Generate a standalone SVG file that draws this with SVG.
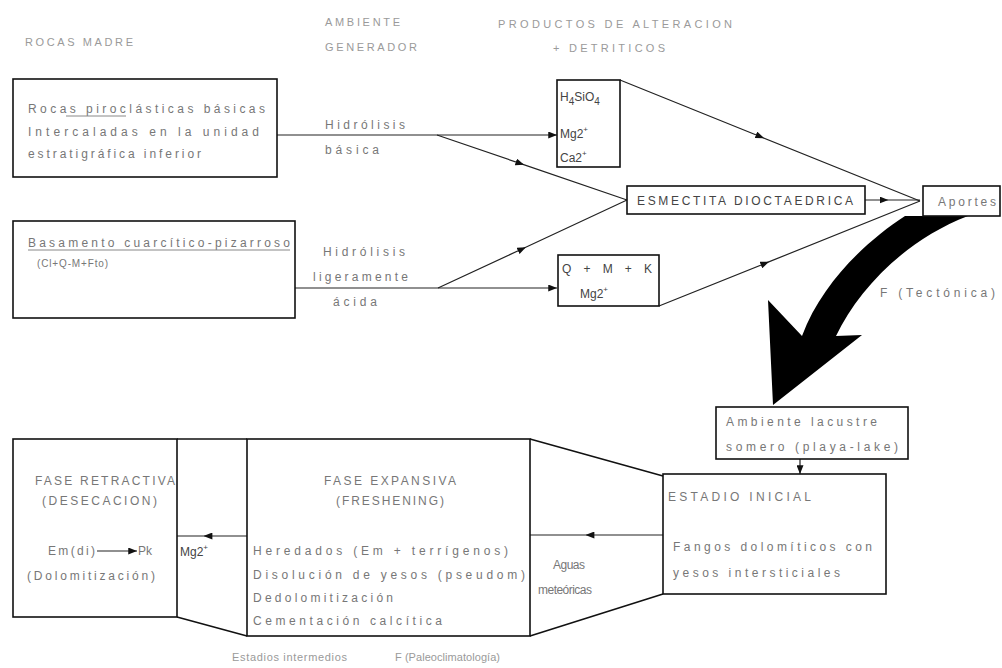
<svg xmlns="http://www.w3.org/2000/svg" width="1002" height="668" viewBox="0 0 1002 668">
<style>
.t{font-family:"Liberation Sans",Arial,sans-serif;font-size:12px;fill:#777}
.h{fill:#9a9a9a;font-size:11px}
.d{fill:#444}
.s{font-size:10px}
.box{fill:none;stroke:#111;stroke-width:1.6}
.ln{fill:none;stroke:#222;stroke-width:1.2}
</style>
<defs>
<marker id="ae" viewBox="0 0 10 8" refX="10" refY="4" markerWidth="9" markerHeight="7" orient="auto" markerUnits="userSpaceOnUse"><path d="M0,0 L10,4 L0,8 Z" fill="#111"/></marker>
<marker id="am" viewBox="0 0 10 8" refX="5" refY="4" markerWidth="9" markerHeight="7" orient="auto" markerUnits="userSpaceOnUse"><path d="M0,0 L10,4 L0,8 Z" fill="#111"/></marker>
</defs>
<rect width="1002" height="668" fill="#fff"/>

<g id="headers" class="t h">
<text x="25" y="46" textLength="108" lengthAdjust="spacing">ROCAS MADRE</text>
<text x="325" y="26" textLength="75" lengthAdjust="spacing">AMBIENTE</text>
<text x="325" y="51" textLength="92" lengthAdjust="spacing">GENERADOR</text>
<text x="498" y="28" textLength="234" lengthAdjust="spacing">PRODUCTOS DE ALTERACION</text>
<text x="553" y="52" textLength="112" lengthAdjust="spacing">+ DETRITICOS</text>
</g>

<g id="connectors">
<path class="ln" d="M277,135 H557" marker-end="url(#ae)"/>
<path class="ln" d="M295,288 H557" marker-end="url(#ae)"/>
<path class="ln" d="M437,135 L520,163.4 L627,200" marker-mid="url(#am)"/>
<path class="ln" d="M438,288 L522,249 L627,200" marker-mid="url(#am)"/>
<path class="ln" d="M620,80 L760,136.5 L920,201" marker-mid="url(#am)"/>
<path class="ln" d="M659,306 L765,263.4 L920,201" marker-mid="url(#am)"/>
<path class="ln" d="M865,200 L884,200 L920,200" marker-mid="url(#am)"/>
<path class="ln" d="M800,459 V474" marker-end="url(#ae)"/>
<path class="ln" d="M247,536 L208,536 L177,536" marker-mid="url(#am)"/>
<path class="ln" d="M663,535 L590,535 L530,535" marker-mid="url(#am)"/>
<path id="tectonic-arrow" d="M905,216 C868,240 822,282 802,336 L768,300 L773,405 L862,335 L836,336 C858,290 905,240 968,216 Z" fill="#000"/>
</g>

<g id="rocas-piroclasticas">
<rect class="box" x="13" y="79" width="264" height="98"/>
<text class="t" x="28" y="113" textLength="237" lengthAdjust="spacing">Rocas piroclásticas básicas</text>
<line x1="66" y1="116" x2="126" y2="116" stroke="#888" stroke-width="1"/>
<text class="t" x="28" y="136" textLength="231" lengthAdjust="spacing">Intercaladas en la unidad</text>
<text class="t" x="28" y="158" textLength="173" lengthAdjust="spacing">estratigráfica inferior</text>
</g>

<g id="basamento">
<rect class="box" x="13" y="221" width="282" height="97"/>
<text class="t" x="28" y="247" textLength="262" lengthAdjust="spacing">Basamento cuarcítico-pizarroso</text>
<line x1="28" y1="250" x2="290" y2="250" stroke="#888" stroke-width="1"/>
<text class="t s" x="37" y="267" textLength="71" lengthAdjust="spacing">(Cl+Q-M+Fto)</text>
</g>

<g id="labels-hidrolisis" class="t">
<text x="325" y="129" textLength="80" lengthAdjust="spacing">Hidrólisis</text>
<text x="325" y="154" textLength="54" lengthAdjust="spacing">básica</text>
<text x="323" y="256" textLength="82" lengthAdjust="spacing">Hidrólisis</text>
<text x="313" y="281" textLength="95" lengthAdjust="spacing">ligeramente</text>
<text x="333" y="306" textLength="44" lengthAdjust="spacing">ácida</text>
</g>

<g id="productos-basica">
<rect class="box" x="557" y="80" width="63" height="87"/>
<text class="t d" x="560" y="101" font-size="13">H<tspan dy="4" font-size="10">4</tspan><tspan dy="-4">SiO</tspan><tspan dy="4" font-size="10">4</tspan></text>
<text class="t d" x="560" y="138" font-size="13">Mg2<tspan dy="-6" font-size="8">+</tspan></text>
<text class="t d" x="560" y="162" font-size="13">Ca2<tspan dy="-6" font-size="8">+</tspan></text>
</g>

<g id="productos-acida">
<rect class="box" x="558" y="255" width="101" height="51"/>
<text class="t d" x="562" y="273" textLength="90" lengthAdjust="spacing">Q + M + K</text>
<text class="t d" x="580" y="298" font-size="13">Mg2<tspan dy="-6" font-size="8">+</tspan></text>
</g>

<g id="esmectita">
<rect class="box" x="627" y="186" width="238" height="28"/>
<text class="t d" x="637" y="205" textLength="216" lengthAdjust="spacing">ESMECTITA DIOCTAEDRICA</text>
</g>

<g id="aportes">
<rect class="box" x="923" y="186" width="77" height="30"/>
<text class="t" x="938" y="206" textLength="58" lengthAdjust="spacing">Aportes</text>
</g>

<text id="label-tectonica" class="t" x="880" y="297" textLength="115" lengthAdjust="spacing">F (Tectónica)</text>

<g id="ambiente-lacustre">
<rect class="box" x="716" y="407" width="192" height="52"/>
<text class="t" x="726" y="426" textLength="151" lengthAdjust="spacing">Ambiente lacustre</text>
<text class="t" x="726" y="451" textLength="172" lengthAdjust="spacing">somero (playa-lake)</text>
</g>

<g id="estadio-inicial">
<rect class="box" x="663" y="474" width="223" height="120"/>
<text class="t" x="668" y="501" textLength="143" lengthAdjust="spacing">ESTADIO INICIAL</text>
<text class="t" x="673" y="551" textLength="199" lengthAdjust="spacing">Fangos dolomíticos con</text>
<text class="t" x="673" y="577" textLength="167" lengthAdjust="spacing">yesos intersticiales</text>
</g>

<g id="aguas-meteoricas">
<path class="box" d="M530,439 L663,476 M530,636 L663,594"/>
<text class="t" x="553" y="569" font-size="11" textLength="32" lengthAdjust="spacing">Aguas</text>
<text class="t" x="538" y="594" font-size="11" textLength="54" lengthAdjust="spacing">meteóricas</text>
</g>

<g id="fase-expansiva">
<rect class="box" x="247" y="439" width="283" height="197"/>
<text class="t" x="390" y="485" text-anchor="middle" textLength="132" lengthAdjust="spacing">FASE EXPANSIVA</text>
<text class="t" x="390" y="505" text-anchor="middle" textLength="108" lengthAdjust="spacing">(FRESHENING)</text>
<text class="t" x="253" y="555" textLength="255" lengthAdjust="spacing">Heredados (Em + terrígenos)</text>
<text class="t" x="253" y="579" textLength="272" lengthAdjust="spacing">Disolución de yesos (pseudom)</text>
<text class="t" x="253" y="602" textLength="140" lengthAdjust="spacing">Dedolomitización</text>
<text class="t" x="253" y="625" textLength="189" lengthAdjust="spacing">Cementación calcítica</text>
</g>

<g id="mg-transfer">
<path class="box" d="M177,439 H247 M177,617 L247,636"/>
<text class="t d" x="180" y="556" font-size="13">Mg2<tspan dy="-6" font-size="8">+</tspan></text>
</g>

<g id="fase-retractiva">
<rect class="box" x="13" y="439" width="164" height="178"/>
<text class="t" x="35" y="485" textLength="140" lengthAdjust="spacing">FASE RETRACTIVA</text>
<text class="t" x="42" y="505" textLength="115" lengthAdjust="spacing">(DESECACION)</text>
<text class="t" x="48" y="555" textLength="47" lengthAdjust="spacing">Em(di)</text>
<path class="ln" d="M97,551 H137" stroke-width="1.8" marker-end="url(#ae)"/>
<text class="t" x="138" y="555">Pk</text>
<text class="t" x="27" y="580" textLength="128" lengthAdjust="spacing">(Dolomitización)</text>
</g>

<g id="footer" class="t h">
<text x="232" y="661" textLength="115" lengthAdjust="spacing">Estadios intermedios</text>
<text x="395" y="661" textLength="105" lengthAdjust="spacing">F (Paleoclimatología)</text>
</g>
</svg>
